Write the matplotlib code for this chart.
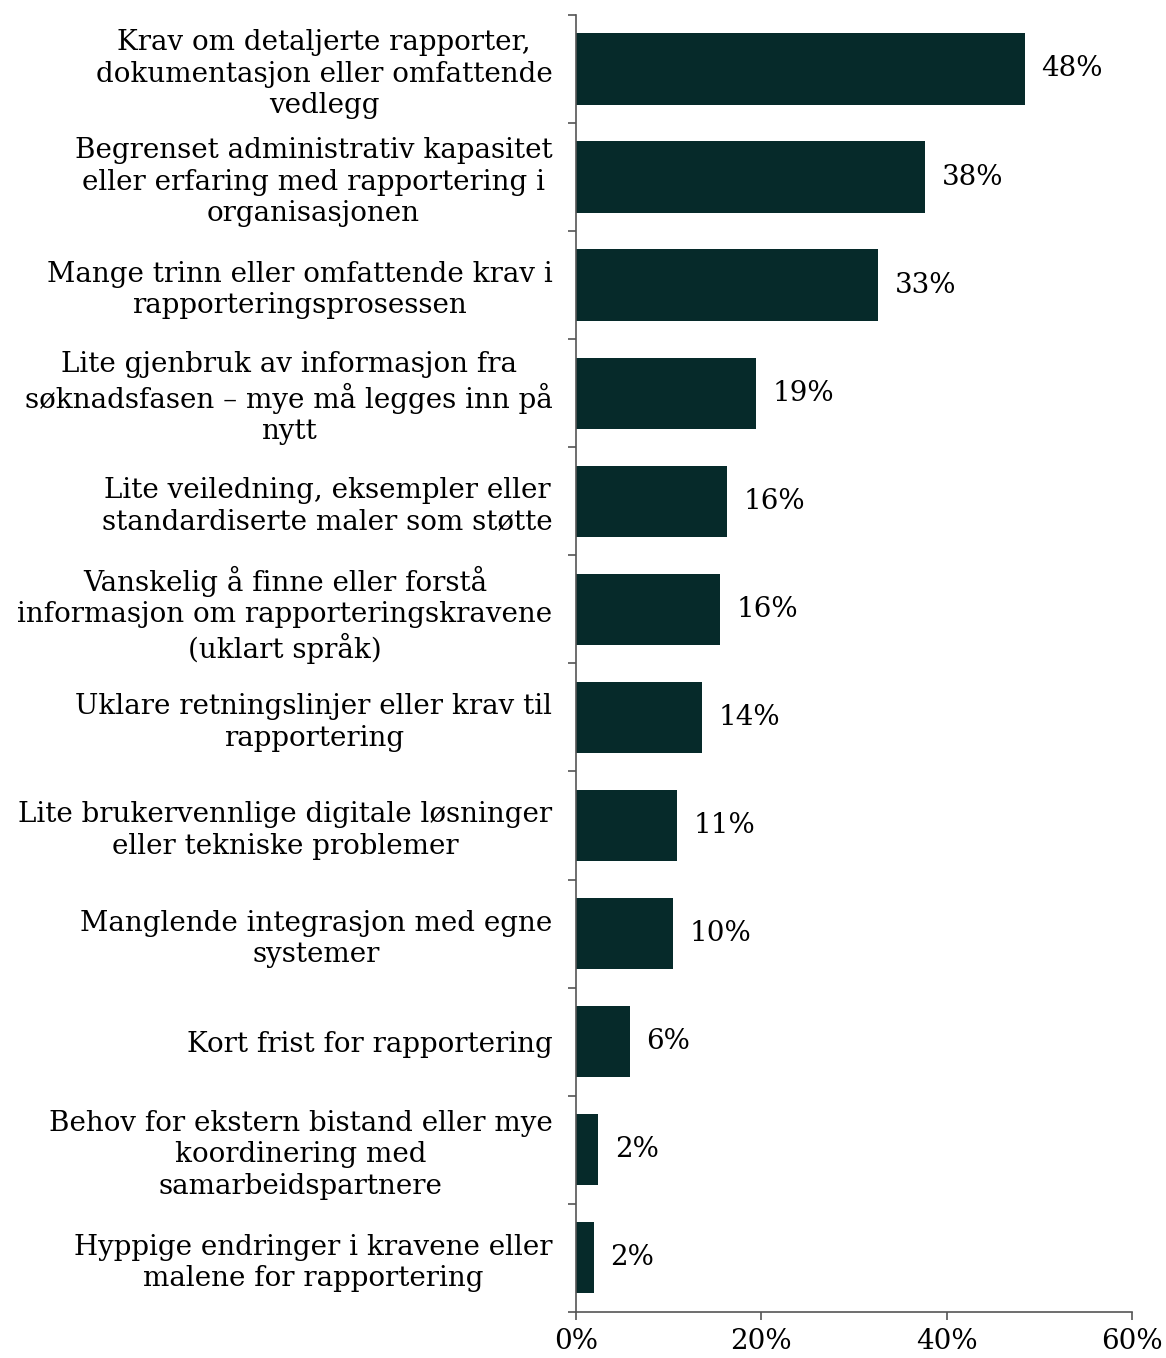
import numpy as np
import matplotlib.pyplot as plt
from matplotlib.ticker import FuncFormatter

categories = [
    "Krav om detaljerte rapporter,\ndokumentasjon eller omfattende\nvedlegg",
    "Begrenset administrativ kapasitet\neller erfaring med rapportering i\norganisasjonen",
    "Mange trinn eller omfattende krav i\nrapporteringsprosessen",
    "Lite gjenbruk av informasjon fra\nsøknadsfasen – mye må legges inn på\nnytt",
    "Lite veiledning, eksempler eller\nstandardiserte maler som støtte",
    "Vanskelig å finne eller forstå\ninformasjon om rapporteringskravene\n(uklart språk)",
    "Uklare retningslinjer eller krav til\nrapportering",
    "Lite brukervennlige digitale løsninger\neller tekniske problemer",
    "Manglende integrasjon med egne\nsystemer",
    "Kort frist for rapportering",
    "Behov for ekstern bistand eller mye\nkoordinering med\nsamarbeidspartnere",
    "Hyppige endringer i kravene eller\nmalene for rapportering",
]
values = [48.4, 37.7, 32.6, 19.4, 16.3, 15.5, 13.6, 10.9, 10.5, 5.8, 2.4, 1.9]
xticks = [0, 20, 40, 60]

bar_color = "#062a2a"
plt.rcParams['font.family'] = ['DejaVu Serif']

fig = plt.figure(figsize=(11.66, 13.58), dpi=100)
ax = fig.add_axes([0.494, 0.034, 0.477, 0.955])

y = np.arange(len(categories))
ax.barh(y, values, height=0.66, color=bar_color)
for yi, v in zip(y, values):
    ax.text(v + 1.8, yi, f"{round(v):.0f}%", va="center", ha="left", fontsize=20)

ax.set_ylim(len(categories) - 0.5, -0.5)
ax.set_xlim(0, 60)
ax.set_xticks(xticks)
ax.xaxis.set_major_formatter(FuncFormatter(lambda x, p: f"{x:.0f}%"))

ax.set_yticks(y)
ax.set_yticklabels(categories, fontsize=20, multialignment="center", linespacing=1.2)
ax.set_yticks(np.arange(-0.5, len(categories)), minor=True)
ax.tick_params(axis="y", which="major", length=0, pad=17)
ax.tick_params(axis="y", which="minor", length=6, color="#555555", width=1.2)
ax.tick_params(axis="x", length=6, color="#555555", width=1.2, labelsize=20, pad=6)

for s in ["top", "right"]:
    ax.spines[s].set_visible(False)
for s in ["left", "bottom"]:
    ax.spines[s].set_color("#555555")
    ax.spines[s].set_linewidth(1.2)

plt.savefig("out.png", dpi=100)
